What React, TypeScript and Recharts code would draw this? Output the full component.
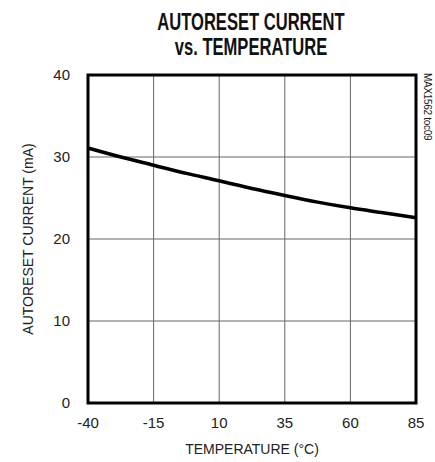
import React from 'react';
import { LineChart, Line, XAxis, YAxis, CartesianGrid, ReferenceArea } from 'recharts';

const temperature = [-40, -27.5, -15, -2.5, 10, 22.5, 35, 47.5, 60, 72.5, 85];
const current = [31.1, 30.0, 29.0, 28.0, 27.1, 26.15, 25.3, 24.5, 23.8, 23.2, 22.6];
const xTicks = [-40, -15, 10, 35, 60, 85];
const yTicks = [0, 10, 20, 30, 40];

const data = temperature.map((t, i) => ({ t, ma: current[i] }));

const font = "'Liberation Sans', Arial, sans-serif";

const App = () => {
  return (
    <div style={{ position: 'absolute', left: 0, top: 0, width: 435, height: 462, fontFamily: font }}>
      <div
        style={{
          position: 'absolute',
          left: 0,
          top: 10,
          width: 502,
          textAlign: 'center',
          fontSize: 23,
          fontWeight: 'bold',
          lineHeight: '25px',
          color: '#111',
          transform: 'scaleX(0.72)',
          transformOrigin: '251px 0',
        }}
      >
        AUTORESET CURRENT
        <br />
        vs. TEMPERATURE
      </div>
      <div
        style={{
          position: 'absolute',
          left: 422,
          top: 73,
          writingMode: 'vertical-rl',
          fontSize: 10,
          color: '#222',
          whiteSpace: 'nowrap',
          letterSpacing: '-0.3px',
        }}
      >
        MAX1562 toc09
      </div>
      <LineChart
        width={435}
        height={462}
        data={data}
        margin={{ top: 75, right: 19, bottom: 0, left: 0 }}
        style={{ fontFamily: font }}
      >
        <CartesianGrid stroke="#666" strokeWidth={1} />
        <XAxis
          dataKey="t"
          type="number"
          domain={[-40, 85]}
          ticks={xTicks}
          height={59}
          axisLine={false}
          tickLine={false}
          tickSize={8}
          tickMargin={6}
          tick={{ fill: '#222', fontSize: 15 }}
          label={{ value: 'TEMPERATURE (°C)', position: 'insideBottom', offset: 8, fill: '#222', fontSize: 14 }}
        />
        <YAxis
          type="number"
          domain={[0, 40]}
          ticks={yTicks}
          width={88}
          axisLine={false}
          tickLine={false}
          tickSize={8}
          tickMargin={10}
          tick={{ fill: '#222', fontSize: 15 }}
          label={{
            value: 'AUTORESET CURRENT (mA)',
            angle: -90,
            position: 'insideLeft',
            offset: 28,
            fill: '#222',
            fontSize: 14,
            style: { textAnchor: 'middle' },
          }}
        />
        <ReferenceArea x1={-40} x2={85} y1={0} y2={40} fill="none" stroke="#000" strokeWidth={3} ifOverflow="visible" />
        <Line
          type="monotone"
          dataKey="ma"
          stroke="#000"
          strokeWidth={3.5}
          dot={false}
          isAnimationActive={false}
        />
      </LineChart>
    </div>
  );
};

export default App;
